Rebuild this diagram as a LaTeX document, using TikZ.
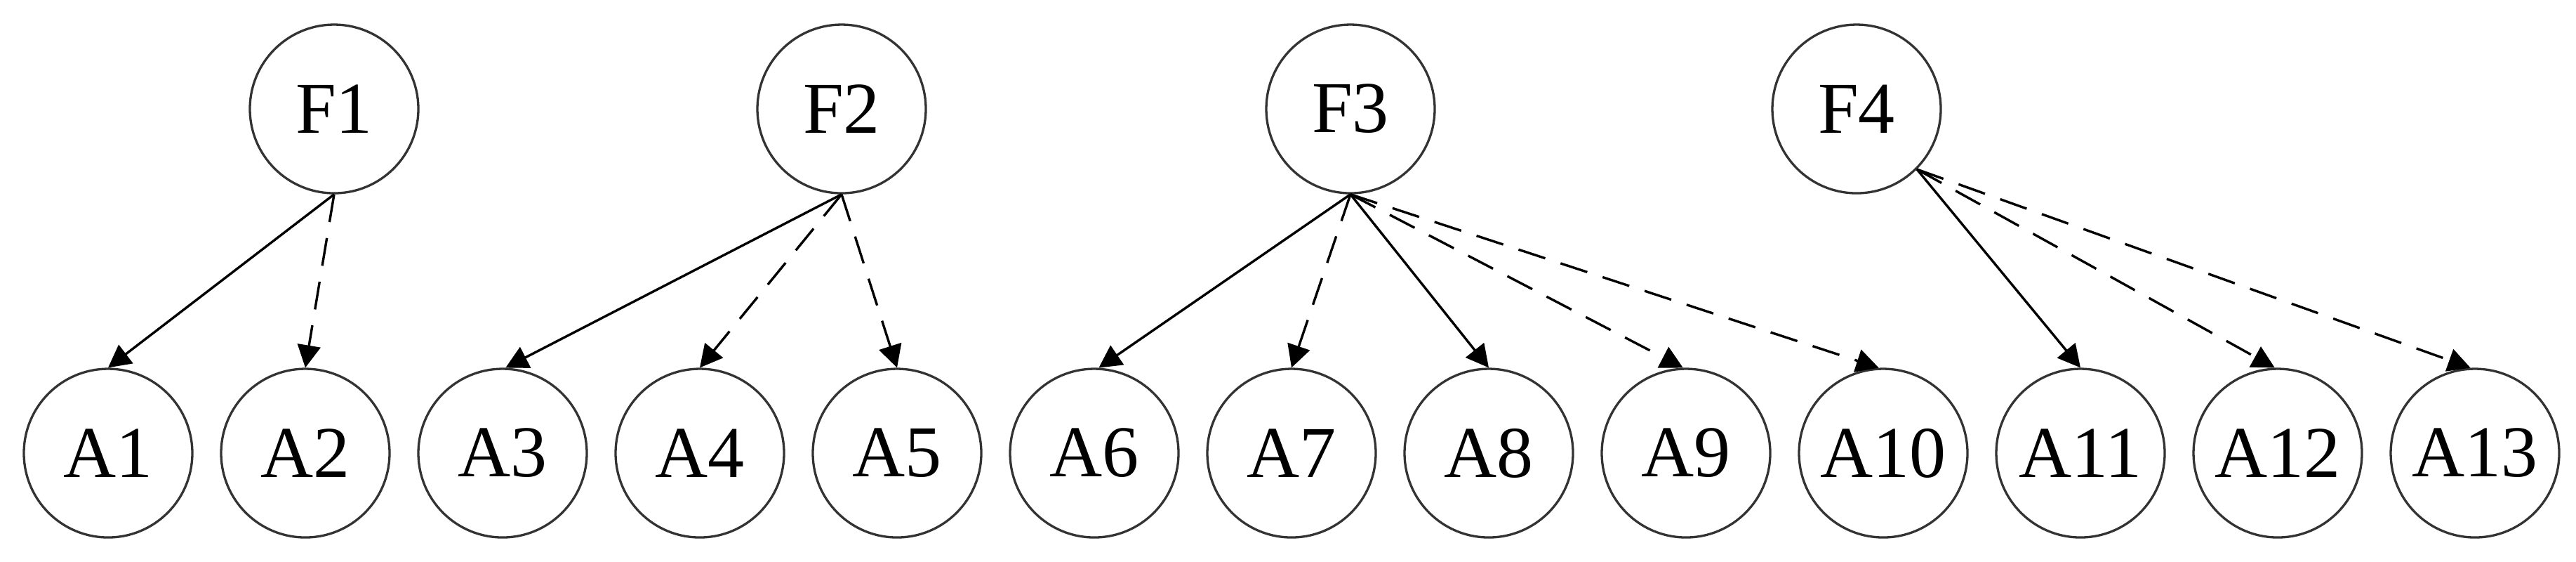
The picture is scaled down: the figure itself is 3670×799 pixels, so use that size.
\documentclass[tikz,border=0pt]{standalone}
\usepackage{fontspec}
\setmainfont{Liberation Serif}
\usetikzlibrary{arrows.meta}
\begin{document}
\begin{tikzpicture}[x=0.1pt,y=-0.1pt,
  vnode/.style={circle,draw=black!80,line width=0.33pt,minimum size=24pt,inner sep=0pt,font=\fontsize{10.4pt}{12pt}\selectfont},
  edge/.style={line width=0.34pt,-{Triangle[length=3.2pt,width=3.3pt]}},
  dashedge/.style={edge,dash pattern=on 4pt off 2.3pt}]
\useasboundingbox (0,0) rectangle (3670,799);
\node[vnode] (F1) at (476,155) {F1};
\node[vnode] (F2) at (1199,155) {F2};
\node[vnode] (F3) at (1924,155) {F3};
\node[vnode] (F4) at (2645,155) {F4};
\foreach \i in {1,...,13}{
  \node[vnode] (A\i) at ({154+281*(\i-1)},645) {A\i};
}
\draw[edge] (F1.south) -- (A1.north);
\draw[dashedge] (F1.south) -- (A2.north);
\draw[edge] (F2.south) -- (A3.88);
\draw[dashedge] (F2.south) -- (A4.north);
\draw[dashedge] (F2.south) -- (A5.north);
\draw[edge] (F3.south) -- (A6.87);
\draw[dashedge] (F3.south) -- (A7.north);
\draw[edge] (F3.south) -- (A8.north);
\draw[dashedge] (F3.south) -- (A9.92);
\draw[dashedge] (F3.south) -- (A10.93);
\draw[edge] (F4.-45) -- (A11.north);
\draw[dashedge] (F4.-45) -- (A12.92);
\draw[dashedge] (F4.-45) -- (A13.93);
\end{tikzpicture}
\end{document}
